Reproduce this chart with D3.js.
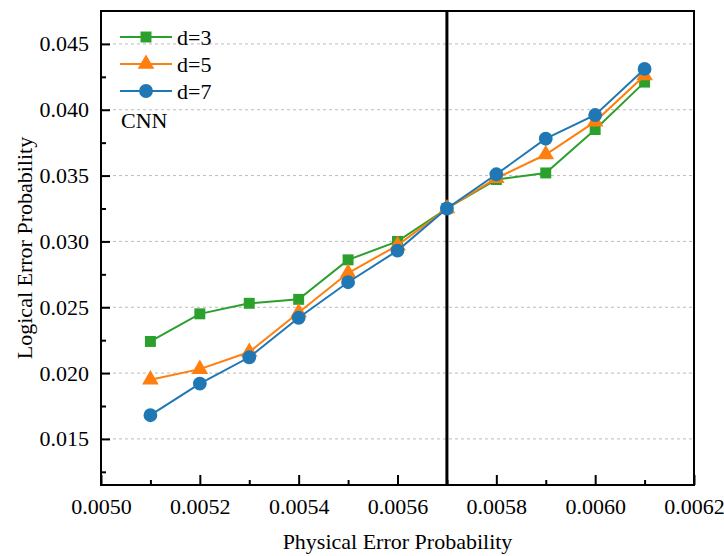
<!DOCTYPE html>
<html><head><meta charset="utf-8">
<script src="https://cdn.jsdelivr.net/npm/d3@7"></script>
<style>body{margin:0;background:#fff}svg{display:block}</style>
</head><body>
<script>
const xValues = [0.0051,0.0052,0.0053,0.0054,0.0055,0.0056,0.0057,0.0058,0.0059,0.0060,0.0061];
const d3Values = [0.0224,0.0245,0.0253,0.0256,0.0286,0.0300,0.0325,0.0347,0.0352,0.0385,0.0421];
const d5Values = [0.0195,0.0203,0.0216,0.0246,0.0276,0.0297,0.0325,0.0348,0.0366,0.0391,0.0426];
const d7Values = [0.0168,0.0192,0.0212,0.0242,0.0269,0.0293,0.0325,0.0351,0.0378,0.0396,0.0431];
const seriesNames = ["d=3","d=5","d=7"];
const seriesColors = ["#2ca02c","#ff7f0e","#1f77b4"];
const seriesSymbols = ["square","triangle","circle"];
const xTickValues = [0.0050,0.0052,0.0054,0.0056,0.0058,0.0060,0.0062];
const xMinorTicks = [0.0051,0.0053,0.0055,0.0057,0.0059,0.0061];
const yTickValues = [0.015,0.020,0.025,0.030,0.035,0.040,0.045];
const yMinorTicks = [0.0125,0.0175,0.0225,0.0275,0.0325,0.0375,0.0425];
const thresholdX = 0.0057;
const annotation = "CNN";
const xTitle = "Physical Error Probability";
const yTitle = "Logical Error Probability";

const W = 724, H = 556;
const m = {l:101, r:30, t:11, b:71};
const FS = 22;
const svg = d3.select("body").append("svg").attr("width",W).attr("height",H);
const font = "'Liberation Serif','Times New Roman',serif";
const x = d3.scaleLinear().domain([0.0050,0.0062]).range([m.l, W-m.r]);
const y = d3.scaleLinear().domain([0.0115,0.0475]).range([H-m.b, m.t]);

// grid
svg.append("g").selectAll("line").data(yTickValues).join("line")
  .attr("x1",m.l).attr("x2",W-m.r).attr("y1",d=>y(d)).attr("y2",d=>y(d))
  .attr("stroke","#bbb").attr("stroke-width",1).attr("stroke-dasharray","3,3");

// axes
const xAxis = svg.append("g").attr("transform",`translate(0,${H-m.b})`)
  .call(d3.axisBottom(x).tickValues(xTickValues).tickFormat(d3.format(".4f")).tickSizeInner(-10).tickSizeOuter(0).tickPadding(13));
const xMin = svg.append("g").attr("transform",`translate(0,${H-m.b})`)
  .call(d3.axisBottom(x).tickValues(xMinorTicks).tickFormat("").tickSizeInner(-5).tickSizeOuter(0));
const yAxis = svg.append("g").attr("transform",`translate(${m.l},0)`)
  .call(d3.axisLeft(y).tickValues(yTickValues).tickFormat(d3.format(".3f")).tickSizeInner(-9).tickSizeOuter(0).tickPadding(12));
const yMin = svg.append("g").attr("transform",`translate(${m.l},0)`)
  .call(d3.axisLeft(y).tickValues(yMinorTicks).tickFormat("").tickSizeInner(-5).tickSizeOuter(0));
[xAxis,xMin,yAxis,yMin].forEach(g=>{
  g.attr("font-family",font).attr("font-size",FS);
  g.select(".domain").remove();
  g.selectAll("line").attr("stroke","#000").attr("stroke-width",2);
  g.selectAll("text").attr("font-family",font).attr("font-size",FS).attr("fill","#000");
});

// frame
svg.append("rect").attr("x",m.l).attr("y",m.t).attr("width",W-m.r-m.l).attr("height",H-m.b-m.t)
  .attr("fill","none").attr("stroke","#000").attr("stroke-width",2);

// threshold line
svg.append("line").attr("x1",x(thresholdX)).attr("x2",x(thresholdX)).attr("y1",m.t).attr("y2",H-m.b)
  .attr("stroke","#000").attr("stroke-width",3);

// series
const allVals = [d3Values,d5Values,d7Values];
const symMap = {square:d3.symbolSquare, triangle:d3.symbolTriangle, circle:d3.symbolCircle};
const symSize = {square:120, triangle:120, circle:150};
const line = d3.line().x((d,i)=>x(xValues[i])).y(d=>y(d));
allVals.forEach((vals,k)=>{
  const g = svg.append("g");
  g.append("path").attr("d",line(vals)).attr("fill","none").attr("stroke",seriesColors[k]).attr("stroke-width",2);
  g.selectAll("path.pt").data(vals).join("path").attr("class","pt")
    .attr("transform",(d,i)=>`translate(${x(xValues[i])},${y(d)})`)
    .attr("d",d3.symbol().type(symMap[seriesSymbols[k]]).size(symSize[seriesSymbols[k]]))
    .attr("fill",seriesColors[k]);
});

// legend
seriesNames.forEach((name,k)=>{
  const ly = 37 + k*27;
  const g = svg.append("g");
  g.append("line").attr("x1",120).attr("x2",172).attr("y1",ly).attr("y2",ly).attr("stroke",seriesColors[k]).attr("stroke-width",2);
  g.append("path").attr("transform",`translate(146,${ly})`)
    .attr("d",d3.symbol().type(symMap[seriesSymbols[k]]).size(symSize[seriesSymbols[k]])).attr("fill",seriesColors[k]);
  g.append("text").attr("x",177).attr("y",ly+8).text(name).attr("font-family",font).attr("font-size",FS);
});
svg.append("text").attr("x",121).attr("y",128).text(annotation).attr("font-family",font).attr("font-size",FS);

// titles
svg.append("text").attr("x",(m.l+W-m.r)/2).attr("y",549).attr("text-anchor","middle")
  .attr("font-family",font).attr("font-size",FS).text(xTitle);
svg.append("text").attr("transform",`translate(32,${(m.t+H-m.b)/2}) rotate(-90)`).attr("text-anchor","middle")
  .attr("font-family",font).attr("font-size",FS).text(yTitle);
</script>
</body></html>
